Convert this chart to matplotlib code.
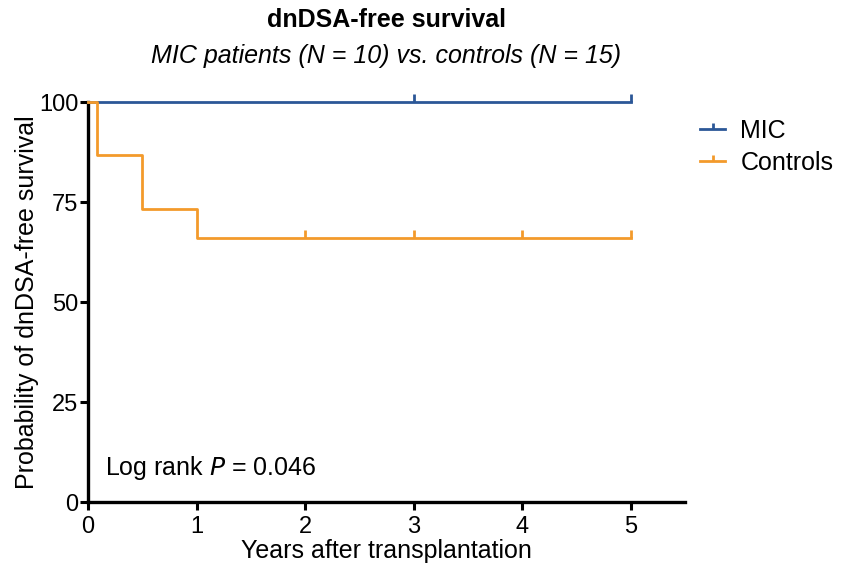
import matplotlib.pyplot as plt
from matplotlib.lines import Line2D

plt.rcParams["font.family"] = ["Liberation Sans", "DejaVu Sans"]

# Kaplan-Meier step data (years, % dnDSA-free)
mic_times = [0, 5]
mic_surv = [100, 100]
mic_censor_t = [3, 5]
mic_censor_s = [100, 100]

ctrl_times = [0, 0.08, 0.5, 1.0, 5]
ctrl_surv = [100, 86.7, 73.3, 66.0, 66.0]
ctrl_censor_t = [2, 3, 4, 5]
ctrl_censor_s = [66.0, 66.0, 66.0, 66.0]

x_ticks = [0, 1, 2, 3, 4, 5]
y_ticks = [0, 25, 50, 75, 100]

BLUE = "#2b5797"
ORANGE = "#f39a2b"
TICK_MARK = [(0, 0), (0, 1)]
FS = 18


def main() -> None:
    fig = plt.figure(figsize=(8.46, 5.74), dpi=100)
    ax = fig.add_axes([0.104, 0.1254, 0.706, 0.6968])

    for t, s, ct, cs, color in [
        (mic_times, mic_surv, mic_censor_t, mic_censor_s, BLUE),
        (ctrl_times, ctrl_surv, ctrl_censor_t, ctrl_censor_s, ORANGE),
    ]:
        ax.step(t, s, where="post", color=color, linewidth=2.0, clip_on=False, zorder=3)
        ax.plot(ct, cs, linestyle="none", marker=TICK_MARK, markersize=11,
                markeredgewidth=2.0, color=color, clip_on=False, zorder=3)

    ax.set_xlim(0, 5.5)
    ax.set_ylim(0, 100)
    ax.set_xticks(x_ticks)
    ax.set_yticks(y_ticks)
    ax.tick_params(axis="both", labelsize=FS - 1, width=2.2, length=6, direction="out")
    ax.tick_params(axis="x", pad=4)
    ax.tick_params(axis="y", pad=1)
    for side in ["top", "right"]:
        ax.spines[side].set_visible(False)
    for side in ["left", "bottom"]:
        ax.spines[side].set_linewidth(2.4)

    ax.set_xlabel("Years after transplantation", fontsize=FS, labelpad=1)
    ax.set_ylabel("Probability of dnDSA-free survival", fontsize=FS, labelpad=0)

    fig.text(0.4563, 0.966, "dnDSA-free survival", ha="center", va="center",
             fontsize=FS, fontweight="bold")
    fig.text(0.4563, 0.902, "MIC patients (N = 10) vs. controls (N = 15)", ha="center",
             va="center", fontsize=FS, style="italic")

    ax.text(0.16, 8.5, "Log rank $\\it{P}$ = 0.046", fontsize=FS, ha="left", va="center")

    handles = [
        Line2D([], [], color=BLUE, linewidth=2.0, marker=TICK_MARK, markersize=9,
               markeredgewidth=2.0),
        Line2D([], [], color=ORANGE, linewidth=2.0, marker=TICK_MARK, markersize=9,
               markeredgewidth=2.0),
    ]
    fig.legend(handles, ["MIC", "Controls"], loc="upper left", bbox_to_anchor=(0.816, 0.81),
               frameon=False, fontsize=FS, handlelength=1.0, handletextpad=0.6,
               labelspacing=0.3, borderaxespad=0)

    plt.savefig("out.png", dpi=100)
    plt.close(fig)


if __name__ == "__main__":
    main()
